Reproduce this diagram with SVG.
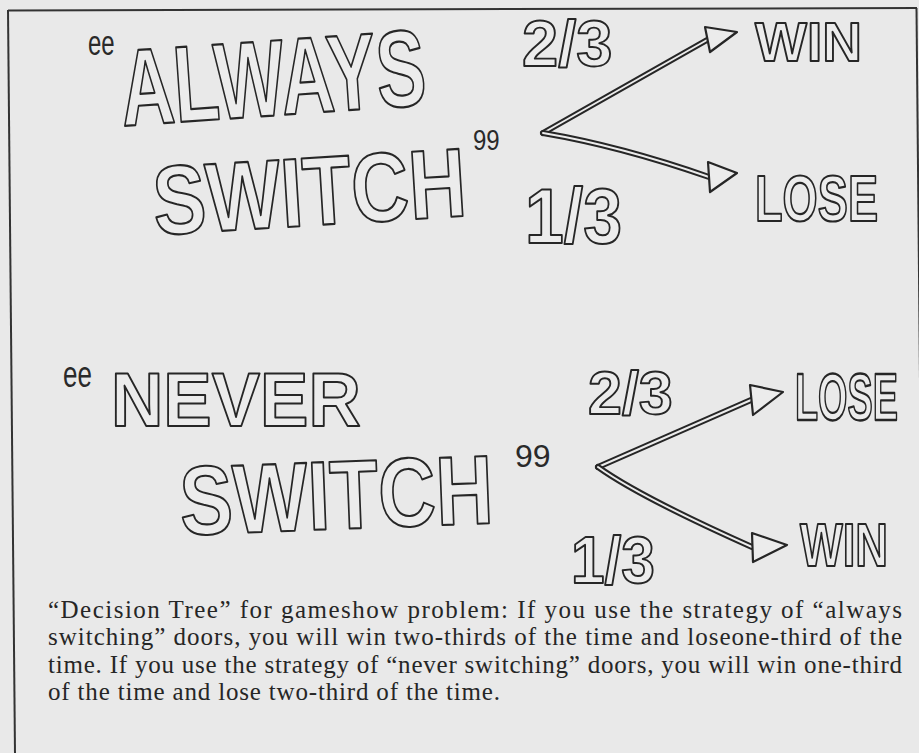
<svg xmlns="http://www.w3.org/2000/svg" width="919" height="753" viewBox="0 0 919 753">
<style>
.hand{font-family:"Liberation Sans",Arial,sans-serif;font-weight:bold;fill:#ececec;stroke:#262626;stroke-width:1.9;stroke-linejoin:round;vector-effect:non-scaling-stroke}
.pen{font-family:"Liberation Sans",Arial,sans-serif;fill:#2a2a2a}
.cap{font-family:"Liberation Serif","Times New Roman",serif;font-size:25px;fill:#262626}
.frame{stroke:#333;stroke-width:2;fill:none}
.lineOut{fill:none;stroke:#262626;stroke-width:6;stroke-linecap:round}
.lineIn{fill:none;stroke:#ececec;stroke-width:2;stroke-linecap:round}
.head{fill:#ececec;stroke:#262626;stroke-width:2.2;stroke-linejoin:round}
</style>
<rect width="919" height="753" fill="#e9e9e9"/>
<g id="frame">
<line class="frame" x1="8" y1="10.5" x2="917" y2="8"/>
<line class="frame" x1="8" y1="10" x2="15" y2="753"/>
<line class="frame" x1="916.5" y1="8" x2="923" y2="700"/>
</g>
<g id="always-switch">
<text class="pen" font-size="24" transform="translate(88 55) scale(1 1.5)">ee</text>
<text class="hand" font-size="74" transform="translate(123 126) rotate(-4) scale(1 1.47)">ALWAYS</text>
<text class="hand" font-size="79.5" transform="translate(155 235) rotate(-3.5) scale(1 1.23)">SWITCH</text>
<text class="pen" font-size="24" transform="translate(473 150) scale(1 1.26)">99</text>
</g>
<g id="top-labels">
<text class="hand" font-size="65" x="522" y="66">2/3</text>
<text class="hand" font-size="69.8" transform="translate(525 243) scale(1 1.12)">1/3</text>
</g>
<g id="top-win"><text class="hand" font-size="55" x="755" y="61">WIN</text></g>
<g id="top-lose"><text class="hand" font-size="45.2" transform="translate(755 221) scale(1 1.45)">LOSE</text></g>
<g id="never-switch">
<text class="pen" font-size="26" transform="translate(63 387) scale(1 1.4)">ee</text>
<text class="hand" font-size="72.5" transform="translate(111 426) scale(1 1.05)">NEVER</text>
<text class="hand" font-size="79.5" transform="translate(181 535) rotate(-2.2) scale(1 1.23)">SWITCH</text>
<text class="pen" font-size="32" x="515" y="467">99</text>
</g>
<g id="bottom-labels">
<text class="hand" font-size="61" x="588" y="414">2/3</text>
<text class="hand" font-size="60.4" transform="translate(571 583) scale(1 1.09)">1/3</text>
</g>
<g id="bottom-lose"><text class="hand" font-size="37.8" transform="translate(795 420) scale(1 1.74)">LOSE</text></g>
<g id="bottom-win"><text class="hand" font-size="45.3" transform="translate(800 566) scale(1 1.33)">WIN</text></g>
<g id="connectors">
<path class="lineOut" d="M543,133 L707,40"/>
<path class="lineIn" d="M543,133 L707,40"/>
<path class="lineOut" d="M543,133 Q620,146 709,177"/>
<path class="lineIn" d="M543,133 Q620,146 709,177"/>
<polygon class="head" points="705,27 737,32 710,52"/>
<polygon class="head" points="708,162 737,173 710,192"/>
<path class="lineOut" d="M598,467 L751,400"/>
<path class="lineIn" d="M598,467 L751,400"/>
<path class="lineOut" d="M598,467 Q640,497 752,547"/>
<path class="lineIn" d="M598,467 Q640,497 752,547"/>
<polygon class="head" points="750,385 783,392 753,415"/>
<polygon class="head" points="752,533 787,545 753,562"/>
</g>
<g id="caption">
<text class="cap" x="48" y="618" textLength="854" lengthAdjust="spacing">“Decision Tree” for gameshow problem: If you use the strategy of “always</text>
<text class="cap" x="48" y="645" textLength="854" lengthAdjust="spacing">switching” doors, you will win two-thirds of the time and loseone-third of the</text>
<text class="cap" x="48" y="673" textLength="854" lengthAdjust="spacing">time. If you use the strategy of “never switching” doors, you will win one-third</text>
<text class="cap" x="48" y="700" textLength="452" lengthAdjust="spacing">of the time and lose two-third of the time.</text>
</g>
</svg>
